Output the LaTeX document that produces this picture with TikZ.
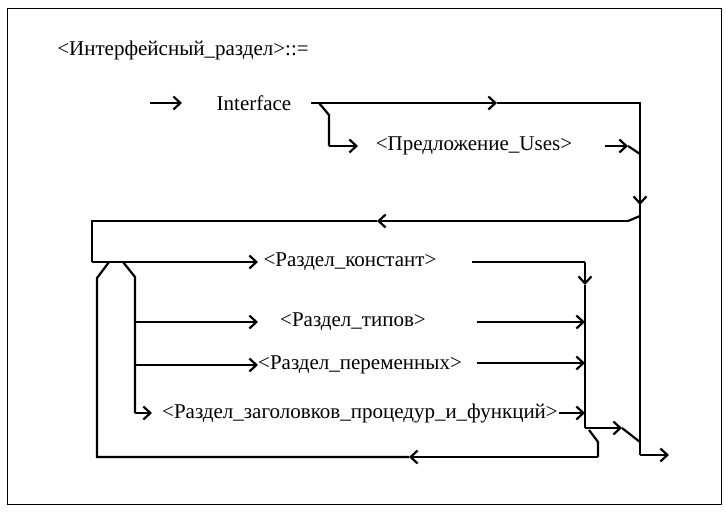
\documentclass[tikz,border=0pt]{standalone}
\usepackage{fontspec}
\setmainfont{Liberation Serif}
\usetikzlibrary{arrows.meta}
\tikzset{
  lbl/.style   = {inner sep=1pt,font=\fontsize{21}{25}\selectfont},
  line/.style  = {line width=2.2pt,line join=miter},
  arrow/.style = {line,-{Straight Barb[length=7pt,width=13pt]}},
  frame/.style = {line width=1pt},
}
\begin{document}
\begin{tikzpicture}[x=1pt,y=-1pt]
  \useasboundingbox (0,0) rectangle (726,514);
  \draw[frame] (7,8) rectangle (721,504);
  \node[lbl] (title) at (183,50) {<Интерфейсный\_раздел>::=};
  \node[lbl] (iface) at (254,103) {Interface};
  \node[lbl] (uses)  at (474,146) {<Предложение\_Uses>};
  \node[lbl] (konst) at (350,262) {<Раздел\_констант>};
  \node[lbl] (tipov) at (353,322) {<Раздел\_типов>};
  \node[lbl] (perem) at (360,365) {<Раздел\_переменных>};
  \node[lbl] (zagol) at (360,413) {<Раздел\_заголовков\_процедур\_и\_функций>};
  % top row
  \coordinate (in)   at (150,103);
  \coordinate (inT)  at (182,103);
  \coordinate (r1)   at (311,103);
  \coordinate (m1)   at (497,103);
  \coordinate (ne)   at (640,103);
  \coordinate (dn)   at (640,205);
  \coordinate (ret)  at (640,216);
  \coordinate (join1) at (640,154);
  \coordinate (join2) at (640,442);
  \coordinate (se)   at (640,455);
  \coordinate (out)  at (669,455);
  \draw[arrow] (in) -- (inT);
  \draw[arrow] (r1) -- (m1);
  \draw[line] (m1) -- (ne) -- (dn);
  \draw[arrow] (ne) -- (dn);
  \draw[line] (dn) -- (se);
  \draw[arrow] (se) -- (out);
  % optional uses
  \coordinate (u0) at (319,103);
  \coordinate (u1) at (329,115);
  \coordinate (u2) at (329,146);
  \coordinate (uT) at (358,146);
  \coordinate (u3) at (605,146);
  \coordinate (u4) at (628,146);
  \draw[line] (u0) -- (u1) -- (u2);
  \draw[arrow] (u2) -- (uT);
  \draw[arrow] (u3) -- (u4);
  \draw[line] (u4) -- (join1);
  % return loop
  \coordinate (k0) at (628,221);
  \coordinate (k1) at (377,221);
  \coordinate (k2) at (92,221);
  \coordinate (k3) at (92,262);
  \coordinate (k4) at (258,262);
  \draw[line] (ret) -- (k0);
  \draw[arrow] (k0) -- (k1);
  \draw[line] (k1) -- (k2) -- (k3);
  \draw[arrow] (k3) -- (k4);
  % collector
  \coordinate (c0) at (472,262);
  \coordinate (c1) at (585,262);
  \coordinate (c2) at (585,285);
  \coordinate (c3) at (585,428);
  \coordinate (c4) at (622,428);
  \draw[line] (c0) -- (c1);
  \draw[arrow] (c1) -- (c2);
  \draw[line] (c2) -- (c3);
  \draw[arrow] (c3) -- (c4);
  \draw[line] (c4) -- (join2);
  \draw[arrow] (477,322) -- (c1 |- tipov);
  \draw[arrow] (477,363) -- (585,363);
  \draw[arrow] (zagol.east) -- (585,413);
  % branches
  \coordinate (b0) at (123,262);
  \coordinate (b1) at (135,277);
  \coordinate (b2) at (135,413);
  \coordinate (bT) at (152,413);
  \draw[line] (b0) -- (b1) -- (b2);
  \draw[arrow] (b2) -- (bT);
  \draw[arrow] (135,322) -- (258,322);
  \draw[arrow] (135,365) -- (258,365);
  % repeat loop
  \coordinate (l0) at (109,262);
  \coordinate (l1) at (97,278);
  \coordinate (l2) at (97,457);
  \coordinate (l3) at (598,457);
  \coordinate (l4) at (598,442);
  \coordinate (l5) at (589,430);
  \coordinate (lm) at (409,457);
  \draw[line] (l5) -- (l4) -- (l3);
  \draw[arrow] (l3) -- (lm);
  \draw[line] (lm) -- (l2) -- (l1) -- (l0);
\end{tikzpicture}
\end{document}
